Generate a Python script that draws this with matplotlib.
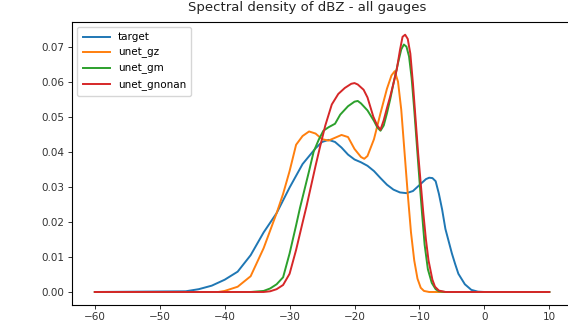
import matplotlib.pyplot as plt

# density curves (x in dB, y = density)
target_x = [-60, -46, -44, -42, -40, -38, -36, -34, -32, -30, -28, -26, -25, -24, -23, -22,
            -21, -20, -19, -18, -17, -16, -15, -14, -13, -12, -11, -10, -9, -8.5, -8, -7.5,
            -7, -6.5, -6, -5.5, -5, -4.5, -4, -3, -2, -1, 0, 10]
target_y = [0, 0.0002, 0.0008, 0.0018, 0.0035, 0.0058, 0.0105, 0.0170, 0.0225, 0.0298, 0.0365,
            0.0410, 0.0428, 0.0434, 0.0428, 0.0412, 0.0392, 0.0378, 0.0370, 0.0360, 0.0345,
            0.0325, 0.0306, 0.0292, 0.0284, 0.0282, 0.0288, 0.0305, 0.0322, 0.0326, 0.0325,
            0.0316, 0.0280, 0.0235, 0.0180, 0.0145, 0.0110, 0.0080, 0.0052, 0.0022, 0.0006,
            0.0001, 0, 0]

gz_x = [-60, -41, -40, -38, -36, -34, -33, -32, -31, -30, -29, -28, -27, -26, -25, -24, -23,
        -22, -21, -20, -19, -18.5, -18, -17, -16, -15, -14.3, -13.8, -13.3, -12.8, -12.3,
        -11.8, -11.3, -10.8, -10.3, -9.8, -9.3, -8.5, 10]
gz_y = [0, 0, 0.0003, 0.0015, 0.0045, 0.0125, 0.0175, 0.0225, 0.0280, 0.0345, 0.0420, 0.0445,
        0.0458, 0.0452, 0.0436, 0.0432, 0.0440, 0.0448, 0.0442, 0.0408, 0.0385, 0.0380,
        0.0388, 0.0436, 0.0510, 0.0580, 0.0618, 0.0630, 0.0600, 0.0520, 0.0400, 0.0280,
        0.0170, 0.0090, 0.0038, 0.0012, 0.0003, 0, 0]

gm_x = [-60, -36, -34, -33, -32, -31, -30, -29, -28.4, -27, -26.3, -25.5, -24.8, -24, -23,
        -22.2, -21, -20, -19.5, -19, -18, -17, -16.5, -16, -15.5, -15, -14.5, -14, -13.3,
        -12.8, -12.4, -12.0, -11.6, -11.2, -10.8, -10.4, -10.0, -9.6, -9.2, -8.7, -8.1, -7.5,
        -7, -6, 10]
gm_y = [0, 0, 0.0003, 0.0010, 0.0022, 0.0042, 0.0110, 0.0190, 0.0240, 0.0345, 0.0400,
        0.0435, 0.0460, 0.0470, 0.0480, 0.0506, 0.0530, 0.0543, 0.0545, 0.0538, 0.0518,
        0.0488, 0.0470, 0.0460, 0.0475, 0.0510, 0.0550, 0.0595, 0.0653, 0.0692, 0.0706,
        0.0700, 0.0672, 0.0610, 0.0520, 0.0420, 0.0320, 0.0225, 0.0135, 0.0065, 0.0026,
        0.0008, 0.0002, 0, 0]

gnonan_x = [-60, -34, -33, -32, -31, -30, -29, -28, -27.4, -26, -25.3, -24.5, -23.5, -22.5,
            -21.5, -20.5, -20, -19.5, -18.6, -18, -17.1, -16.5, -16, -15.5, -15, -14.5, -14,
            -13.5, -13, -12.6, -12.2, -11.8, -11.4, -11, -10.6, -10.2, -9.8, -9.4, -9, -8.6,
            -8, -7.6, -7, -6, 10]
gnonan_y = [0, 0, 0.0002, 0.0008, 0.0020, 0.0052, 0.0120, 0.0198, 0.0244, 0.0360, 0.0415,
            0.0475, 0.0535, 0.0565, 0.0582, 0.0594, 0.0596, 0.0592, 0.0577, 0.0555, 0.0500,
            0.0475, 0.0463, 0.0490, 0.0525, 0.0558, 0.0595, 0.0634, 0.0690, 0.0728, 0.0734,
            0.0722, 0.0680, 0.0595, 0.0495, 0.0396, 0.0310, 0.0225, 0.0150, 0.0090, 0.0035,
            0.0015, 0.0004, 0, 0]

series = [
    ("target", target_x, target_y),
    ("unet_gz", gz_x, gz_y),
    ("unet_gm", gm_x, gm_y),
    ("unet_gnonan", gnonan_x, gnonan_y),
]

fig = plt.figure(figsize=(5.68, 3.31), dpi=100)
ax = fig.add_axes([0.127, 0.079, 0.880, 0.855])

for name, xs, ys in series:
    ax.plot(xs, ys, label=name, linewidth=1.4)

ax.set_xticks([-60, -50, -40, -30, -20, -10, 0, 10])
ax.tick_params(labelsize=7.5, length=3, width=0.7, pad=2.5, colors="#333333")
for sp in ax.spines.values():
    sp.set_linewidth(0.8)
ax.legend(loc="upper left", fontsize=7.5, handlelength=2.6, borderpad=0.5,
          labelspacing=0.5)

# title sits right at the top edge, as in the reference
fig.text(0.54, 0.997, "Spectral density of dBZ - all gauges", ha="center",
         va="top", fontsize=9.5, color="#222222")

fig.savefig("out.png", dpi=100)
